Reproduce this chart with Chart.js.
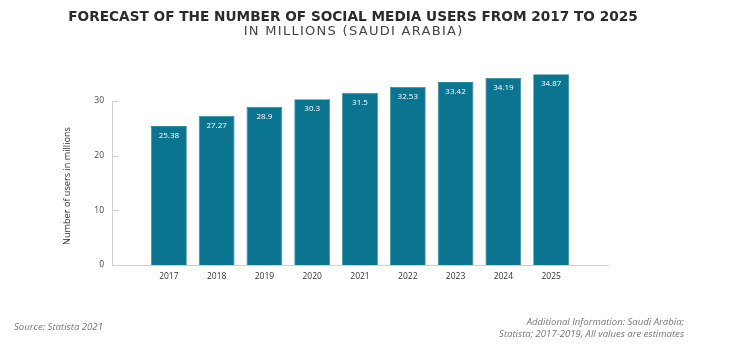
<!DOCTYPE html>
<html>
<head>
<meta charset="utf-8">
<script src="https://cdn.jsdelivr.net/npm/chart.js@4/dist/chart.umd.min.js"></script>
<style>
html,body{margin:0;padding:0;background:#fff;}
#wrap{width:730px;height:357px;position:relative;}
</style>
</head>
<body>
<div id="wrap"><canvas id="c" width="730" height="357"></canvas></div>
<script>
const years = [2017, 2018, 2019, 2020, 2021, 2022, 2023, 2024, 2025];
const users = [25.38, 27.27, 28.9, 30.3, 31.5, 32.53, 33.42, 34.19, 34.87];
const yTicks = [0, 10, 20, 30];
const titleText = 'FORECAST OF THE NUMBER OF SOCIAL MEDIA USERS FROM 2017 TO 2025';
const subtitleText = 'IN MILLIONS (SAUDI ARABIA)';
const yTitle = 'Number of users in millions';
const sourceText = 'Source: Statista 2021';
const noteLines = ['Additional Information: Saudi Arabia;', 'Statista; 2017-2019, All values are estimates'];

const FONT = '"Open Sans", "Noto Sans", sans-serif';
const WIDE = '"DejaVu Sans", "Open Sans", sans-serif';

function fitText(ctx, text, weight, target, style, fam) {
  let size = 20;
  const f = fam || FONT;
  ctx.font = (style||'') + ' ' + weight + ' ' + size + 'px ' + f;
  const w = ctx.measureText(text).width;
  size = size * target / w;
  return (style||'') + ' ' + weight + ' ' + size.toFixed(2) + 'px ' + f;
}

const decor = {
  id: 'decor',
  afterDatasetsDraw(chart) {
    const ctx = chart.ctx;
    const ys = chart.scales.y, xs = chart.scales.x;
    ctx.save();
    ctx.strokeStyle = '#d0d0d0';
    ctx.lineWidth = 1;
    const x0 = Math.round(xs.left) + 0.5;
    ctx.beginPath();
    ctx.moveTo(x0, ys.getPixelForValue(yTicks[yTicks.length-1]));
    ctx.lineTo(x0, ys.getPixelForValue(0));
    yTicks.forEach(v => {
      const py = Math.round(ys.getPixelForValue(v)) + 0.5;
      ctx.moveTo(x0, py);
      ctx.lineTo(x0 + 6, py);
    });
    ctx.stroke();
    ctx.fillStyle = '#ffffff';
    ctx.font = '400 8px ' + FONT;
    ctx.textAlign = 'center';
    ctx.textBaseline = 'middle';
    const meta = chart.getDatasetMeta(0);
    meta.data.forEach((bar, i) => {
      ctx.fillText(String(users[i]), bar.x, bar.y + 10);
    });
    ctx.restore();
  },
  afterDraw(chart) {
    const ctx = chart.ctx;
    ctx.save();
    ctx.textAlign = 'center';
    ctx.textBaseline = 'middle';
    ctx.fillStyle = '#2b2b2b';
    ctx.font = fitText(ctx, titleText, '700', 570, '', WIDE);
    ctx.fillText(titleText, 353, 17);
    ctx.fillStyle = '#444';
    ctx.font = '400 13px ' + WIDE;
    const w0 = ctx.measureText(subtitleText).width;
    const ls = (220 - w0) / subtitleText.length;
    ctx.letterSpacing = ls.toFixed(2) + 'px';
    ctx.fillText(subtitleText, 353 + ls / 2, 32);
    ctx.letterSpacing = '0px';
    ctx.save();
    ctx.translate(67, 186);
    ctx.rotate(-Math.PI/2);
    ctx.fillStyle = '#333';
    ctx.font = fitText(ctx, yTitle, '400', 118);
    ctx.fillText(yTitle, 0, 0);
    ctx.restore();
    ctx.fillStyle = '#777';
    ctx.textAlign = 'left';
    ctx.font = fitText(ctx, sourceText, '400', 89, 'italic');
    ctx.fillText(sourceText, 14, 327);
    ctx.textAlign = 'right';
    ctx.font = fitText(ctx, noteLines[1], '400', 185, 'italic');
    ctx.fillText(noteLines[0], 684, 322);
    ctx.fillText(noteLines[1], 684, 334);
    ctx.restore();
  }
};

new Chart(document.getElementById('c'), {
  type: 'bar',
  data: {
    datasets: [{
      data: years.map((y, i) => ({x: y, y: users[i]})),
      backgroundColor: '#0b7490',
      borderColor: '#2d88a0',
      borderWidth: 0.8,
      barPercentage: 0.75,
      categoryPercentage: 1
    }]
  },
  options: {
    responsive: false,
    animation: false,
    devicePixelRatio: 1,
    layout: {padding: {top: 68, right: 122, left: 0, bottom: 0}},
    plugins: {legend: {display: false}, tooltip: {enabled: false}},
    scales: {
      x: {
        type: 'linear',
        offset: false,
        min: 2015.81,
        max: 2026.19,
        afterBuildTicks: s => { s.ticks = years.map(v => ({value: v})); },
        afterFit: s => { s.height = 92; },
        grid: {display: false, drawTicks: false, offset: false},
        border: {display: true, color: '#d0d0d0', width: 1},
        ticks: {
          padding: 6,
          autoSkip: false,
          maxRotation: 0,
          color: '#333',
          font: {family: FONT, size: 8.5},
          callback: v => String(v)
        }
      },
      y: {
        min: 0,
        max: 36,
        afterBuildTicks: s => { s.ticks = yTicks.map(v => ({value: v})); },
        afterFit: s => { s.width = 112; },
        grid: {display: false, drawTicks: false},
        border: {display: false},
        ticks: {
          padding: 8,
          color: '#444',
          font: {family: FONT, size: 8.5}
        }
      }
    }
  },
  plugins: [decor]
});
</script>
</body>
</html>
